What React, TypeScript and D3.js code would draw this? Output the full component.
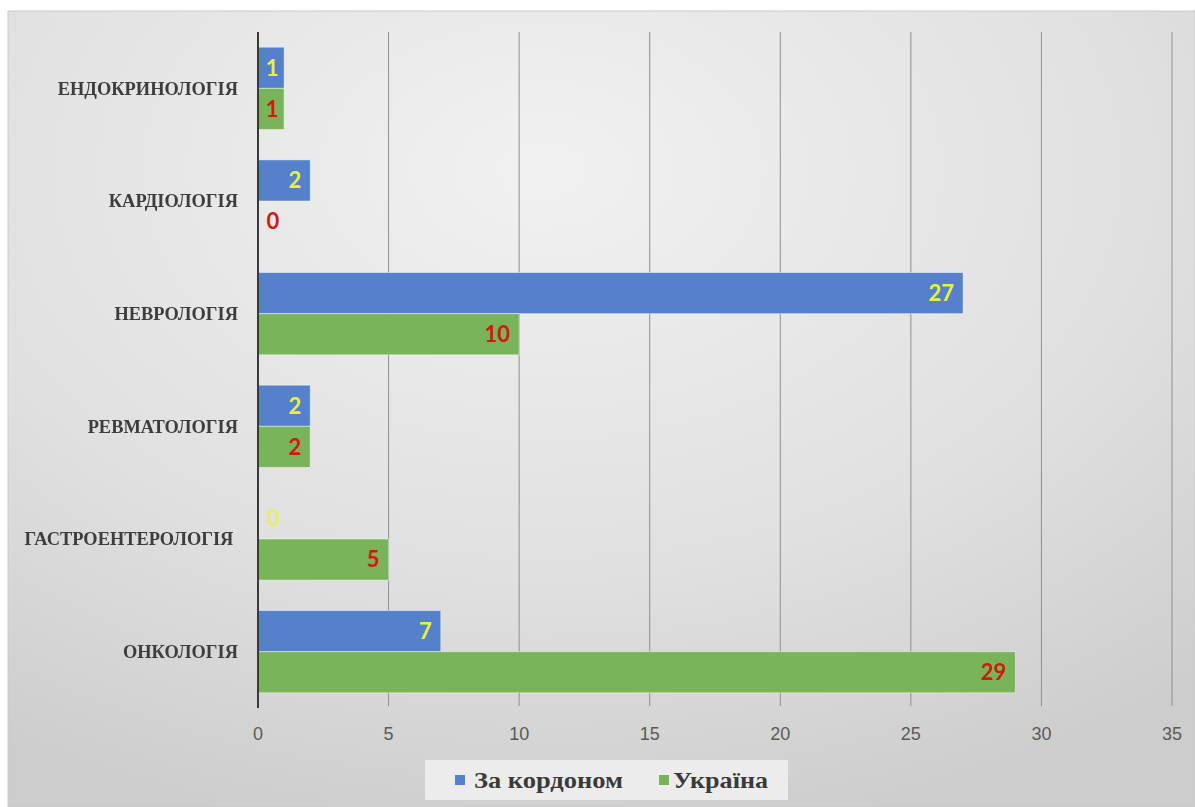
import React from "react";
import * as d3 from "d3";

const categories = [
  "ЕНДОКРИНОЛОГІЯ",
  "КАРДІОЛОГІЯ",
  "НЕВРОЛОГІЯ",
  "РЕВМАТОЛОГІЯ",
  "ГАСТРОЕНТЕРОЛОГІЯ\u00a0",
  "ОНКОЛОГІЯ",
];
const abroadValues = [1, 2, 27, 2, 0, 7];
const ukraineValues = [1, 0, 10, 2, 5, 29];
const xTicks = [0, 5, 10, 15, 20, 25, 30, 35];
const seriesNames = ["За кордоном", "Україна"];

const W = 1195;
const H = 807;

export default function App() {
  const x = d3.scaleLinear().domain([0, 35]).range([258, 1172]);
  const y = d3
    .scaleBand<string>()
    .domain(categories)
    .range([32, 708])
    .paddingInner(0.27)
    .paddingOuter(0.135);
  const sub = d3
    .scaleBand<string>()
    .domain(seriesNames)
    .range([0, y.bandwidth()]);

  const colors = ["#5580cc", "#79b45a"];
  const labelColors = ["#e9f23a", "#d01a0e"];
  const series = [abroadValues, ukraineValues];
  const x0 = x(0);

  const labelX = (v: number) => {
    const w = x(v) - x0;
    if (v === 0) return { x: x0 + 15, anchor: "middle" };
    if (w < 40) return { x: x0 + w / 2 + 1, anchor: "middle" };
    return { x: x(v) - 9, anchor: "end" };
  };

  return (
    <svg
      width={W}
      height={H}
      style={{ position: "absolute", left: 0, top: 0, background: "#fff" }}
    >
      <defs>
        <radialGradient id="bg" cx="45%" cy="20%" r="85%">
          <stop offset="0%" stopColor="#f1f1f1" />
          <stop offset="60%" stopColor="#e0e0e0" />
          <stop offset="100%" stopColor="#cdcdcd" />
        </radialGradient>
        <filter id="soft">
          <feGaussianBlur stdDeviation="0.35" />
        </filter>
      </defs>
      <rect x={8} y={11} width={W - 8} height={H - 11} fill="url(#bg)" stroke="#c9c9c9" strokeWidth={1} />

      {/* gridlines */}
      {xTicks.slice(1).map((t) => (
        <line key={t} x1={x(t)} x2={x(t)} y1={32} y2={706} stroke="#8f8f8f" strokeWidth={1} />
      ))}

      {/* bars */}
      {categories.map((c, i) =>
        series.map((vals, s) => {
          const v = vals[i];
          const by = (y(c) as number) + (sub(seriesNames[s]) as number);
          const bh = sub.bandwidth();
          return v > 0 ? (
            <rect
              key={c + s}
              x={x0}
              y={by}
              width={x(v) - x0}
              height={bh}
              fill={colors[s]}
              stroke="rgba(255,255,255,0.45)"
              strokeWidth={1}
            />
          ) : null;
        })
      )}

      {/* axis line */}
      <line x1={x0} x2={x0} y1={32} y2={708} stroke="#3a3a3a" strokeWidth={2} />

      {/* data labels */}
      {categories.map((c, i) =>
        series.map((vals, s) => {
          const v = vals[i];
          const by = (y(c) as number) + (sub(seriesNames[s]) as number);
          const bh = sub.bandwidth();
          const p = labelX(v);
          return (
            <text
              key={"l" + c + s}
              x={p.x}
              y={by + bh / 2}
              dy="0.36em"
              textAnchor={p.anchor as any}
              fontFamily="Lato, 'Open Sans', sans-serif"
              fontWeight={700}
              fontSize={22}
              fill={labelColors[s]}
              opacity={v === 0 && s === 0 ? 0.75 : 1}
            >
              {v}
            </text>
          );
        })
      )}

      {/* category labels */}
      {categories.map((c) => (
        <text
          key={"c" + c}
          x={238}
          y={(y(c) as number) + y.bandwidth() / 2}
          dy="0.35em"
          textAnchor="end"
          fontFamily="'Liberation Serif', 'DejaVu Serif', serif"
          fontWeight={700}
          fontSize={18.4}
          fill="#3c3c3c"
          filter="url(#soft)"
        >
          {c}
        </text>
      ))}

      {/* x tick labels */}
      {xTicks.map((t) => (
        <text
          key={"t" + t}
          x={x(t)}
          y={740}
          textAnchor="middle"
          fontFamily="'Liberation Sans Narrow', 'Liberation Sans', sans-serif"
          fontSize={18}
          fill="#5a5a5a"
        >
          {t}
        </text>
      ))}

      {/* legend */}
      <rect x={425} y={760} width={363} height={40} fill="#ececec" />
      <rect x={455} y={775} width={10} height={10} fill={colors[0]} />
      <text
        x={474}
        y={788}
        fontFamily="'Liberation Serif', serif"
        fontWeight={700}
        fontSize={24}
        fill="#3a3a3a"
        textLength={149}
        lengthAdjust="spacingAndGlyphs"
      >
        {seriesNames[0]}
      </text>
      <rect x={659} y={775} width={10} height={10} fill={colors[1]} />
      <text
        x={673}
        y={788}
        fontFamily="'Liberation Serif', serif"
        fontWeight={700}
        fontSize={24}
        fill="#3a3a3a"
        textLength={95}
        lengthAdjust="spacingAndGlyphs"
      >
        {seriesNames[1]}
      </text>
    </svg>
  );
}
